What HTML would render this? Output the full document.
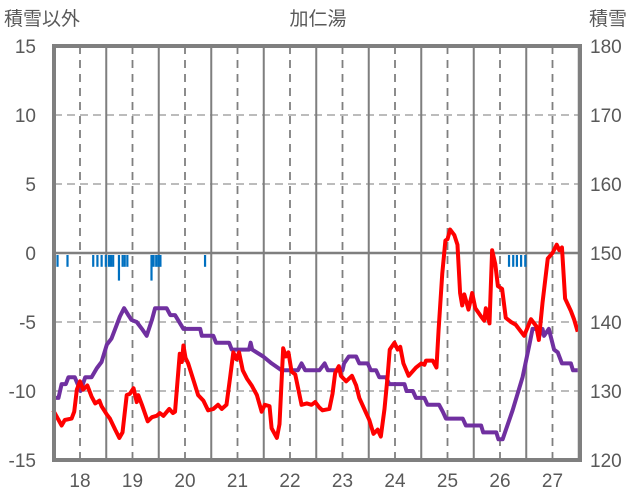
<!DOCTYPE html>
<html><head><meta charset="utf-8">
<style>
html,body{margin:0;padding:0;background:#fff;}
svg{display:block;font-family:"Liberation Sans","Noto Sans CJK JP",sans-serif;}
</style></head>
<body>
<svg id="chart" width="636" height="501" viewBox="0 0 636 501" xmlns="http://www.w3.org/2000/svg">
<text x="318" y="25" font-size="19" fill="#595959" text-anchor="middle" font-family="Liberation Sans, Noto Sans CJK JP, sans-serif">加仁湯</text>
<text x="4" y="25" font-size="19" fill="#595959" font-family="Liberation Sans, Noto Sans CJK JP, sans-serif">積雪以外</text>
<text x="589" y="25" font-size="19" fill="#595959" font-family="Liberation Sans, Noto Sans CJK JP, sans-serif">積雪</text>
<g id="grid"></g><g id="bars"></g><g id="lines"></g><g id="axes"></g>
</svg>
<script>
const dayTicks = [18,19,20,21,22,23,24,25,26,27];
const leftTicks = [15,10,5,0,-5,-10,-15];
const rightTicks = [180,170,160,150,140,130,120];
const tempT = [17.49,17.65,17.71,17.84,17.89,17.94,18.00,18.06,18.14,18.22,18.29,18.37,18.41,18.51,18.57,18.67,18.75,18.81,18.89,18.95,19.02,19.08,19.11,19.18,19.29,19.37,19.46,19.52,19.59,19.70,19.77,19.81,19.87,19.90,19.94,19.97,20.01,20.06,20.16,20.25,20.35,20.44,20.54,20.63,20.70,20.79,20.86,20.92,20.98,21.03,21.10,21.18,21.27,21.37,21.46,21.52,21.61,21.65,21.75,21.80,21.87,21.92,21.97,22.03,22.10,22.22,22.32,22.41,22.48,22.56,22.62,22.75,22.81,22.86,22.93,22.97,23.07,23.18,23.26,23.32,23.45,23.51,23.59,23.67,23.73,23.80,23.86,23.90,23.99,24.05,24.10,24.16,24.26,24.40,24.50,24.56,24.59,24.72,24.79,24.83,24.90,24.96,25.00,25.05,25.13,25.19,25.24,25.28,25.32,25.40,25.47,25.53,25.64,25.70,25.73,25.80,25.85,25.91,25.96,26.04,26.11,26.21,26.30,26.46,26.59,26.69,26.74,26.81,26.91,27.00,27.08,27.13,27.18,27.24,27.35,27.41,27.48];
const tempV = [-11.4,-12.5,-12.1,-12.0,-11.5,-9.9,-9.3,-9.9,-9.6,-10.4,-10.9,-10.7,-11.1,-11.7,-12.0,-12.8,-13.4,-13.0,-10.3,-10.2,-9.8,-10.8,-10.3,-11.0,-12.2,-11.9,-11.8,-11.6,-11.8,-11.3,-11.6,-11.5,-8.7,-7.3,-7.9,-6.7,-7.6,-8.0,-9.2,-10.3,-10.7,-11.4,-11.3,-11.0,-11.3,-11.0,-9.0,-7.2,-7.7,-7.2,-8.5,-9.1,-9.6,-10.3,-11.5,-11.0,-11.1,-12.7,-13.4,-12.4,-6.9,-7.5,-7.2,-8.6,-8.8,-11.0,-10.9,-11.0,-10.8,-11.2,-11.4,-11.3,-10.2,-8.7,-8.2,-8.9,-9.3,-8.9,-9.6,-10.5,-11.6,-12.1,-13.1,-12.8,-13.3,-11.3,-8.9,-7.0,-6.5,-7.0,-6.8,-8.0,-8.9,-8.3,-8.0,-8.1,-7.8,-7.8,-8.3,-5.6,-1.5,0.9,1.0,1.7,1.3,0.6,-2.9,-3.8,-3.0,-4.1,-2.9,-4.0,-4.6,-4.9,-4.0,-5.1,0.2,-0.8,-2.4,-2.6,-4.7,-5.0,-5.2,-6.0,-4.8,-5.3,-6.3,-3.6,-0.4,0.0,0.6,0.2,0.4,-3.3,-4.2,-4.8,-5.7];
const snowT = [17.49,17.59,17.65,17.73,17.78,17.90,18.01,18.10,18.22,18.32,18.41,18.51,18.60,18.67,18.76,18.84,18.92,18.98,19.08,19.18,19.27,19.37,19.43,19.65,19.72,19.81,19.97,20.29,20.32,20.54,20.59,20.84,20.89,21.22,21.25,21.28,21.49,21.65,21.84,22.15,22.22,22.29,22.56,22.66,22.72,23.00,23.03,23.12,23.26,23.32,23.48,23.54,23.64,23.70,23.83,23.89,24.18,24.22,24.34,24.40,24.56,24.62,24.84,24.91,24.97,25.29,25.35,25.64,25.68,25.93,25.97,26.05,26.24,26.43,26.56,26.62,26.72,26.75,26.81,26.84,26.93,27.03,27.10,27.18,27.35,27.39,27.48];
const snowV = [129,129,131,131,132,132,130,132,132,133.3,134.2,136.7,137.6,139,140.8,142,141,140.3,140,139,138,140.3,142,142,141,141,139,139,138,138,137,137,136,136,137,136,135,134,133,133,134,133,133,134,133,133,134,135,135,134,134,133,133,132,132,131,131,130,130,129,129,128,128,127,126,126,125,125,124,124,123,123,127.2,132,136.7,139,139,138,139,138,139,136,135.6,134,134,133,133];
const fallT = [17.57,17.76,18.25,18.33,18.41,18.49,18.55,18.59,18.63,18.74,18.81,18.85,18.90,19.36,19.40,19.45,19.49,19.53,20.38,26.17,26.25,26.32,26.40,26.48];
const fallV = [-1,-1,-1,-1,-1,-1,-1,-1,-1,-2,-1,-1,-1,-2,-1,-1,-1,-1,-1,-1,-1,-1,-1,-1];

const NS='http://www.w3.org/2000/svg';
const L=54,R=580,T=46,B=460;
const xs=d=>80+(d-18)*52.5;
const yL=v=>253-(v)*13.8;
const yR=s=>yL((s-150)/2);
function mk(tag,attrs,parent){const e=document.createElementNS(NS,tag);for(const k in attrs)e.setAttribute(k,attrs[k]);document.getElementById(parent).appendChild(e);return e;}

// horizontal grid
leftTicks.forEach(v=>{
  if(v===15||v===-15)return;
  const y=yL(v);
  const e=v===0?mk('line',{x1:L,x2:R,y1:y,y2:y,stroke:'#7f7f7f','stroke-width':2.5},'grid'):mk('line',{x1:L,x2:R,y1:y,y2:y,stroke:'#a6a6a6','stroke-width':1.5,'stroke-dasharray':'8,5'},'grid');
  
  
});
// vertical grid
dayTicks.forEach(d=>{
  const x=xs(d);
  const e=mk('line',{x1:x,x2:x,y1:T,y2:B,stroke:'#7f7f7f','stroke-width':1.8,'stroke-dasharray':'8,6'},'grid');
  
  
  const xn=xs(d+0.5);
  if(xn<R){
    const e2=mk('line',{x1:xn,x2:xn,y1:T,y2:B,stroke:'#7f7f7f','stroke-width':2},'grid');
    
    
  }
  const xn0=xs(d-0.5);
  if(d===18){
    const e3=mk('line',{x1:xn0,x2:xn0,y1:T,y2:B,stroke:'#7f7f7f','stroke-width':2},'grid');
    
    
  }
  const t=mk('text',{x:x,y:487,'font-size':19,fill:'#595959','text-anchor':'middle'},'axes');
  t.textContent=d;
  
  
});
// bars
fallT.forEach((d,i)=>{
  const x=xs(d), y0=yL(0), y1=yL(fallV[i]);
  const b=mk('rect',{x:x-1,y:Math.min(y0,y1)+2,width:2.2,height:Math.abs(y1-y0)-2,fill:'#0070c0'},'bars');
  
  
});
// lines
const snowPath=mk('polyline',{points:snowT.map((d,i)=>xs(d)+','+yR(snowV[i])).join(' '),fill:'none',stroke:'#7030a0','stroke-width':4,'stroke-linejoin':'round'},'lines');


const tempPath=mk('polyline',{points:tempT.map((d,i)=>xs(d)+','+yL(tempV[i])).join(' '),fill:'none',stroke:'#ff0000','stroke-width':4,'stroke-linejoin':'round'},'lines');


// border
const br=mk('rect',{x:L,y:T,width:R-L,height:B-T,fill:'none',stroke:'#7f7f7f','stroke-width':4},'axes');


leftTicks.forEach(v=>{
  const t=mk('text',{x:36,y:yL(v)+7,'font-size':19,fill:'#595959','text-anchor':'end'},'axes');
  t.textContent=v;
  
  
});
rightTicks.forEach(s=>{
  const t=mk('text',{x:590,y:yR(s)+7,'font-size':19,fill:'#595959'},'axes');
  t.textContent=s;
  
  
});
</script>
</body></html>
